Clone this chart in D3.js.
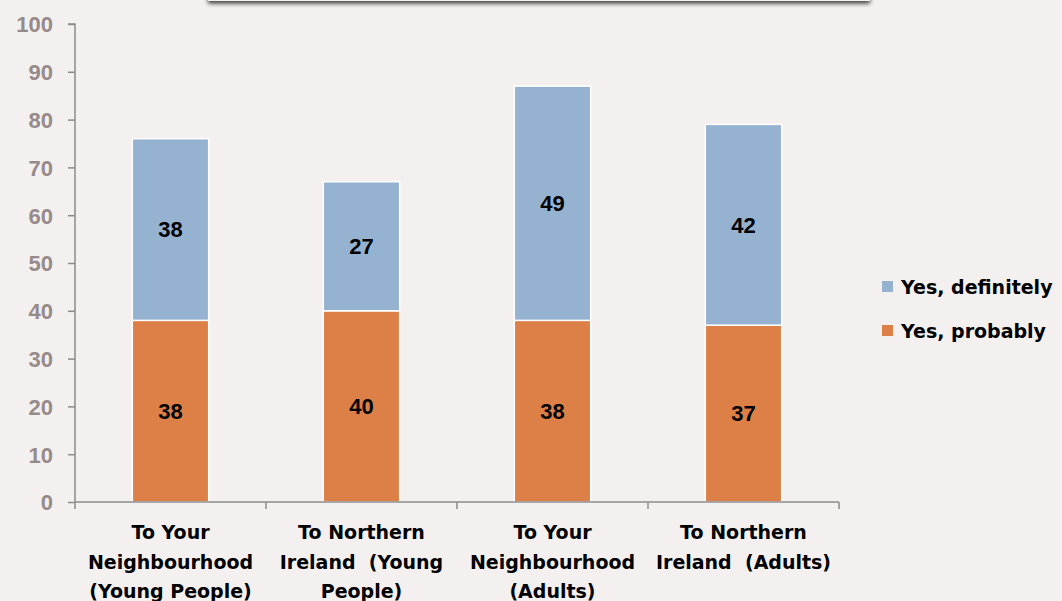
<!DOCTYPE html>
<html>
<head>
<meta charset="utf-8">
<script src="https://cdn.jsdelivr.net/npm/d3@7"></script>
<style>
  html, body { margin: 0; padding: 0; background: #f4f0ef; }
  svg { display: block; font-family: "DejaVu Sans", sans-serif; }
</style>
</head>
<body>
<div class="chart"></div>
<script>
const categories = [
  ['To Your', 'Neighbourhood', '(Young People)'],
  ['To Northern', 'Ireland  (Young', 'People)'],
  ['To Your', 'Neighbourhood', '(Adults)'],
  ['To Northern', 'Ireland  (Adults)']
]
const probably = [38, 40, 38, 37]
const definitely = [38, 27, 49, 42]
const seriesNames = ['Yes, definitely', 'Yes, probably']
const yTicks = [0, 10, 20, 30, 40, 50, 60, 70, 80, 90, 100]

const width = 1062, height = 601
const margin = { top: 24, left: 75, right: 224, bottom: 99 }
const colors = { definitely: '#95b3d1', probably: '#dd8047' }
const numFont = '"Liberation Sans", Arial, sans-serif'

const svg = d3.select('.chart').append('svg')
  .attr('width', width)
  .attr('height', height)

// shadowed box cut off at the top edge
const defs = svg.append('defs')
const filter = defs.append('filter').attr('id', 'shadow')
  .attr('x', '-5%').attr('y', '-50%').attr('width', '110%').attr('height', '200%')
filter.append('feDropShadow')
  .attr('dx', 0).attr('dy', 2.5).attr('stdDeviation', 2)
  .attr('flood-color', '#000').attr('flood-opacity', 0.75)
svg.append('rect')
  .attr('x', 208).attr('y', -40).attr('width', 662).attr('height', 41)
  .attr('fill', '#f4f0ef')
  .attr('filter', 'url(#shadow)')

const x = d3.scaleBand()
  .domain(d3.range(categories.length))
  .range([margin.left, width - margin.right + 1])
  .paddingInner(0.6)
  .paddingOuter(0.3)

const bandStep = x.step()
const y = d3.scaleLinear()
  .domain([0, 100])
  .range([height - margin.bottom, margin.top])

const chart = svg.append('g')

// y axis
const yAxis = chart.append('g')
  .attr('transform', `translate(${margin.left}, 0)`)
  .call(d3.axisLeft(y).tickValues(yTicks).tickSize(7).tickPadding(15))
yAxis.selectAll('line').attr('stroke', '#8c8c8c').attr('stroke-width', 1.5)
yAxis.select('.domain').attr('stroke', '#8c8c8c').attr('stroke-width', 1.5)
  .attr('d', `M-7,${y(100)}H0V${y(0)}`)
yAxis.selectAll('text')
  .attr('fill', '#958b8b')
  .style('font-family', numFont)
  .style('font-size', '22px')
  .style('font-weight', 700)
  .attr('dy', '0.36em')

// bars
const stacks = categories.map((c, i) => ({ i, p: probably[i], d: definitely[i] }))
const groups = chart.selectAll('.bar').data(stacks).enter().append('g')

groups.append('rect')
  .attr('x', d => x(d.i))
  .attr('y', d => y(d.p))
  .attr('width', x.bandwidth())
  .attr('height', d => y(0) - y(d.p))
  .attr('fill', colors.probably)
  .attr('stroke', '#ffffff')
  .attr('stroke-width', 1.5)

groups.append('rect')
  .attr('x', d => x(d.i))
  .attr('y', d => y(d.p + d.d))
  .attr('width', x.bandwidth())
  .attr('height', d => y(d.p) - y(d.p + d.d))
  .attr('fill', colors.definitely)
  .attr('stroke', '#ffffff')
  .attr('stroke-width', 1.5)

groups.append('text')
  .attr('x', d => x(d.i) + x.bandwidth() / 2)
  .attr('y', d => y(d.p / 2))
  .attr('dy', '0.36em')
  .attr('text-anchor', 'middle')
  .style('font-family', numFont)
  .style('font-size', '22px').style('font-weight', 700)
  .text(d => d.p)

groups.append('text')
  .attr('x', d => x(d.i) + x.bandwidth() / 2)
  .attr('y', d => y(d.p + d.d / 2))
  .attr('dy', '0.36em')
  .attr('text-anchor', 'middle')
  .style('font-family', numFont)
  .style('font-size', '22px').style('font-weight', 700)
  .text(d => d.d)

// x axis
const xAxisG = chart.append('g').attr('transform', `translate(0, ${y(0)})`)
xAxisG.append('path')
  .attr('d', `M${margin.left},0H${margin.left + bandStep * categories.length}`)
  .attr('stroke', '#8c8c8c').attr('stroke-width', 1.5).attr('fill', 'none')
xAxisG.selectAll('.tick').data(d3.range(categories.length + 1)).enter().append('line')
  .attr('x1', d => margin.left + d * bandStep)
  .attr('x2', d => margin.left + d * bandStep)
  .attr('y1', 0).attr('y2', 7)
  .attr('stroke', '#8c8c8c').attr('stroke-width', 1.5)

const labels = xAxisG.selectAll('.cat').data(categories).enter().append('text')
  .attr('text-anchor', 'middle')
  .style('font-size', '19px').style('font-weight', 700)
  .attr('fill', '#000')
labels.selectAll('tspan').data((d, i) => d.map(line => ({ line, i }))).enter().append('tspan')
  .attr('x', d => x(d.i) + x.bandwidth() / 2)
  .attr('y', (d, j) => 37 + j * 29.5)
  .style('white-space', 'pre')
  .text(d => d.line)

// legend
const legend = svg.append('g').attr('transform', 'translate(882, 281)')
const legendItems = [
  { name: seriesNames[0], color: colors.definitely },
  { name: seriesNames[1], color: colors.probably }
]
const li = legend.selectAll('g').data(legendItems).enter().append('g')
  .attr('transform', (d, i) => `translate(0, ${i * 44})`)
li.append('rect').attr('width', 11).attr('height', 11).attr('fill', d => d.color)
li.append('text')
  .attr('x', 19).attr('y', 6).attr('dy', '0.36em')
  .style('font-size', '19px').style('font-weight', 700)
  .text(d => d.name)
</script>
</body>
</html>
